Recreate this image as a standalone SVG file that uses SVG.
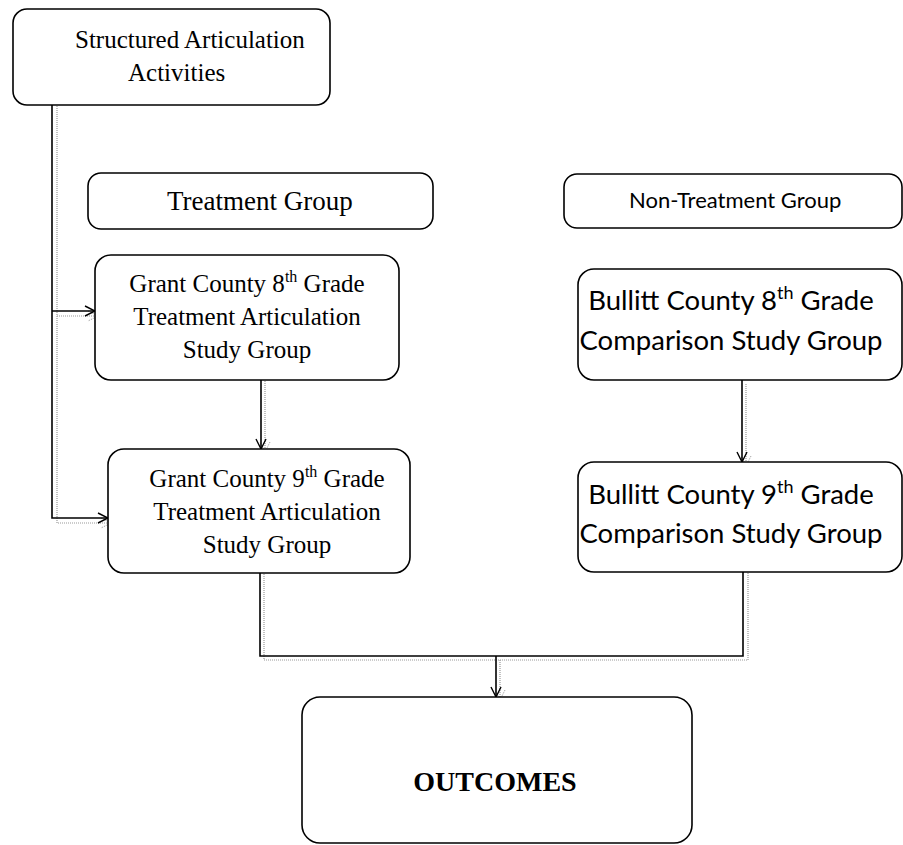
<svg xmlns="http://www.w3.org/2000/svg" width="903" height="845" viewBox="0 0 903 845">
<defs>
<marker id="arr" viewBox="0 0 12 12" refX="11" refY="6" markerWidth="12" markerHeight="12" markerUnits="userSpaceOnUse" orient="auto">
<path d="M1,1 L11,6 L1,11" fill="none" stroke="#000" stroke-width="1.4"/>
</marker>
<marker id="arrg" viewBox="0 0 12 12" refX="11" refY="6" markerWidth="12" markerHeight="12" markerUnits="userSpaceOnUse" orient="auto">
<path d="M1,1 L11,6 L1,11" fill="none" stroke="#999" stroke-width="1" stroke-dasharray="1 1"/>
</marker>
</defs>
<style>
.box{fill:#fff;stroke:#000;stroke-width:1.6}
.ser{font-family:"Liberation Serif","Times New Roman",serif;font-size:25px;fill:#000}
.san{font-family:Lato,"Open Sans",sans-serif;font-size:27.5px;fill:#000}
.ln{fill:none;stroke:#000;stroke-width:1.6}
.sh{fill:none;stroke:#999;stroke-width:1.2;stroke-dasharray:1 1}
</style>
<rect width="903" height="845" fill="#fff"/>
<g id="connectors">
<path class="sh" d="M57,106 V523 H111" marker-end="url(#arrg)"/>
<path class="sh" d="M57,316 H98" marker-end="url(#arrg)"/>
<path class="sh" d="M265,381 V452" marker-end="url(#arrg)"/>
<path class="sh" d="M746,384 V466" marker-end="url(#arrg)"/>
<path class="sh" d="M264,574 V660 H748 V573"/>
<path class="sh" d="M500,660 V700" marker-end="url(#arrg)"/>
<path class="ln" d="M52,105 V518 H108" marker-end="url(#arr)"/>
<path class="ln" d="M52,311 H95" marker-end="url(#arr)"/>
<path class="ln" d="M261,380 V449" marker-end="url(#arr)"/>
<path class="ln" d="M742,380 V462" marker-end="url(#arr)"/>
<path class="ln" d="M260,573 V656 H743 V572"/>
<path class="ln" d="M496,656 V697" marker-end="url(#arr)"/>
</g>
<g id="structured">
<rect class="box" x="13" y="9" width="317" height="96" rx="14"/>
<text class="ser" x="75" y="48">Structured Articulation</text>
<text class="ser" x="128" y="81">Activities</text>
</g>
<g id="treatment">
<rect class="box" x="88" y="173" width="345" height="56" rx="13"/>
<text class="ser" x="167" y="210" style="font-size:27px">Treatment Group</text>
</g>
<g id="nontreatment">
<rect class="box" x="564" y="174" width="338" height="54" rx="13"/>
<text class="san" x="629" y="208" style="font-size:22px">Non-Treatment Group</text>
</g>
<g id="grant8">
<rect class="box" x="95" y="255" width="304" height="125" rx="16"/>
<text class="ser" x="247" y="292" text-anchor="middle">Grant County 8<tspan dy="-10" font-size="16">th</tspan><tspan dy="10"> Grade</tspan></text>
<text class="ser" x="247" y="325" text-anchor="middle">Treatment Articulation</text>
<text class="ser" x="247" y="358" text-anchor="middle">Study Group</text>
</g>
<g id="bullitt8">
<rect class="box" x="578" y="269" width="324" height="111" rx="16"/>
<text class="san" x="731" y="310" text-anchor="middle">Bullitt County 8<tspan dy="-11" font-size="18">th</tspan><tspan dy="11"> Grade</tspan></text>
<text class="san" x="731" y="350" text-anchor="middle">Comparison Study Group</text>
</g>
<g id="grant9">
<rect class="box" x="108" y="449" width="302" height="124" rx="16"/>
<text class="ser" x="267" y="487" text-anchor="middle">Grant County 9<tspan dy="-10" font-size="16">th</tspan><tspan dy="10"> Grade</tspan></text>
<text class="ser" x="267" y="520" text-anchor="middle">Treatment Articulation</text>
<text class="ser" x="267" y="553" text-anchor="middle">Study Group</text>
</g>
<g id="bullitt9">
<rect class="box" x="578" y="462" width="324" height="110" rx="16"/>
<text class="san" x="731" y="504" text-anchor="middle">Bullitt County 9<tspan dy="-11" font-size="18">th</tspan><tspan dy="11"> Grade</tspan></text>
<text class="san" x="731" y="543" text-anchor="middle">Comparison Study Group</text>
</g>
<g id="outcomes">
<rect class="box" x="302" y="697" width="390" height="146" rx="18"/>
<text class="ser" x="495" y="791" text-anchor="middle" font-weight="bold" style="font-size:28px">OUTCOMES</text>
</g>
</svg>
